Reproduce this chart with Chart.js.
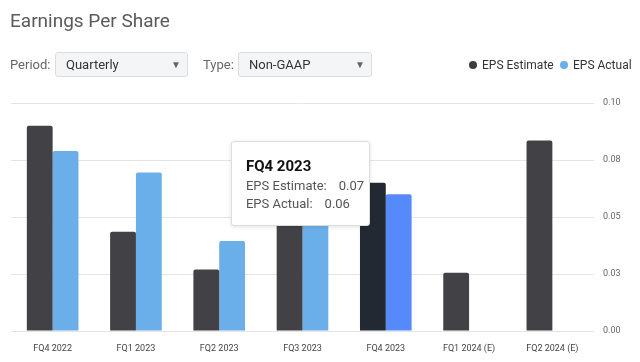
<!DOCTYPE html>
<html><head><meta charset="utf-8">
<script src="https://cdn.jsdelivr.net/npm/chart.js@4/dist/chart.umd.min.js"></script>
<style>
html,body{margin:0;padding:0;background:#fff;width:640px;height:362px;overflow:hidden;font-family:Roboto,"Liberation Sans",sans-serif;}
#wrap{position:absolute;left:0;top:0;width:640px;height:362px;}
.title{position:absolute;left:10px;top:9px;font-size:19px;color:#5a5a5a;font-weight:400;}
.lbl{position:absolute;top:57px;font-size:13px;color:#666;}
.sel{position:absolute;top:52px;height:25px;border:1px solid #ddd;border-radius:3px;background:#f4f5f7;box-sizing:border-box;font-size:13px;color:#333;line-height:23px;padding-left:10px;}
.sel .arr{position:absolute;right:6px;top:0;font-size:10px;color:#666;}
.leg{position:absolute;top:58px;font-size:12px;color:#333;}
.dot{position:absolute;top:61px;width:8px;height:8px;border-radius:50%;}
#tip{position:absolute;background:#fff;border:1px solid #ddd;border-radius:3px;box-shadow:0 1px 4px rgba(0,0,0,0.12);box-sizing:border-box;padding:15px 0 0 14px;color:#555;font-size:13px;}
#tip .t{font-weight:700;color:#111;font-size:15px;margin-bottom:2px;line-height:18px;}
#tip .r{line-height:18px;white-space:nowrap;}
#tip .v{margin-left:12px;}
</style></head>
<body>
<div id="wrap">
<canvas id="c" width="640" height="362"></canvas>
<div class="title">Earnings Per Share</div>
<div class="lbl" style="left:10px">Period:</div>
<div class="sel" style="left:55px;width:133px">Quarterly<span class="arr">▼</span></div>
<div class="lbl" style="left:203px">Type:</div>
<div class="sel" style="left:238px;width:134px">Non-GAAP<span class="arr">▼</span></div>
<div class="dot" style="left:469px;background:#3d3d41"></div>
<div class="leg" style="left:482px">EPS Estimate</div>
<div class="dot" style="left:560px;background:#6aaeea"></div>
<div class="leg" style="left:573px">EPS Actual</div>
<div id="tip"></div>
</div>
<script>
const categories = ["FQ4 2022","FQ1 2023","FQ2 2023","FQ3 2023","FQ4 2023","FQ1 2024 (E)","FQ2 2024 (E)"];
const epsEstimate = [0.090, 0.0435, 0.027, 0.056, 0.065, 0.0256, 0.0835];
const epsActual = [0.079, 0.0695, 0.0395, 0.057, 0.060, null, null];
const yTickValues = [0, 0.025, 0.05, 0.075, 0.1];
const yTickLabels = ["0.00","0.03","0.05","0.08","0.10"];
const highlightIndex = 4;

const estColor = (ctx) => ctx.dataIndex === highlightIndex ? '#232932' : '#424246';
const actColor = (ctx) => ctx.dataIndex === highlightIndex ? '#5689f9' : '#6aaeea';

const chart = new Chart(document.getElementById('c'), {
  type: 'bar',
  data: {
    labels: categories,
    datasets: [
      {label:'EPS Estimate', data: epsEstimate, backgroundColor: estColor, borderRadius: 2, borderSkipped: 'bottom'},
      {label:'EPS Actual', data: epsActual, backgroundColor: actColor, borderRadius: 2, borderSkipped: 'bottom'}
    ]
  },
  options: {
    responsive: false,
    animation: false,
    events: [],
    layout: {padding: {left: 11, top: 103, right: 0, bottom: 0}},
    categoryPercentage: 0.62,
    barPercentage: 1.0,
    plugins: {legend: {display: false}, tooltip: {enabled: false}},
    scales: {
      x: {
        grid: {display: false, drawTicks: false},
        border: {display: false},
        ticks: {color: '#444', font: {size: 9, family: 'Roboto'}, padding: 12, maxRotation: 0, autoSkip: false},
        afterFit: (s) => { s.height = 31; }
      },
      y: {
        position: 'right',
        min: 0, max: 0.1,
        afterBuildTicks: (s) => { s.ticks = yTickValues.map(v => ({value: v})); },
        grid: {color: '#e5e5e5', drawTicks: false, lineWidth: 1},
        border: {display: false},
        ticks: {color: '#666', font: {size: 9, family: 'Roboto'}, padding: 9,
          callback: (v, i) => yTickLabels[i]},
        afterFit: (s) => { s.width = 46; }
      }
    }
  }
});

// tooltip for highlighted category
const tip = document.getElementById('tip');
const eb = chart.getDatasetMeta(0).data[highlightIndex];
tip.innerHTML = '<div class="t">' + categories[highlightIndex] + '</div>' +
  '<div class="r">EPS Estimate:<span class="v">' + epsEstimate[highlightIndex].toFixed(2) + '</span></div>' +
  '<div class="r">EPS Actual:<span class="v">' + epsActual[highlightIndex].toFixed(2) + '</span></div>';
const w = 139, h = 85;
tip.style.width = w + 'px';
tip.style.height = h + 'px';
tip.style.left = (eb.x - eb.width/2 - w + 10) + 'px';
tip.style.top = (eb.y - 42) + 'px';
</script>
</body></html>
